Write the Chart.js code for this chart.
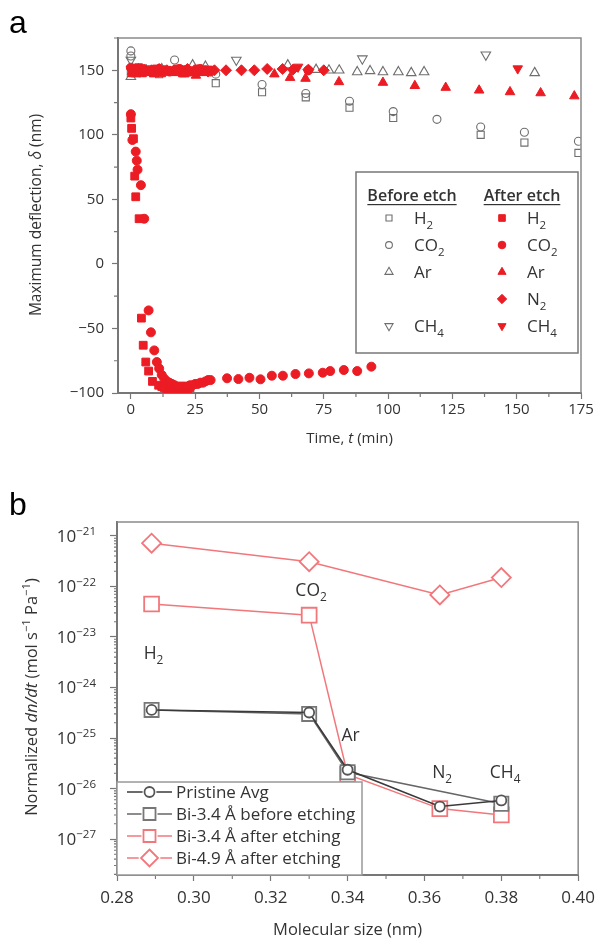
<!DOCTYPE html>
<html>
<head>
<meta charset="utf-8">
<script src="https://cdn.jsdelivr.net/npm/chart.js@4.4.1/dist/chart.umd.min.js"></script>
<style>
    html, body { margin: 0; padding: 0; background: #fff; }
    #caixaA { position: absolute; left: 0; top: 0; width: 602px; height: 460px; }
    #caixaB { position: absolute; left: 0; top: 460px; width: 602px; height: 479px; }
</style>
</head>
<body>
<div id="caixaA"><canvas id="graficoA"></canvas></div>
<div id="caixaB"><canvas id="graficoB"></canvas></div>
<script>
// ---------- Painel a: deflexão máxima x tempo ----------
const ticksTempo = [0, 25, 50, 75, 100, 125, 150, 175];
const ticksDeflexao = [-100, -50, 0, 50, 100, 150];

// antes do etching (marcadores abertos cinza) [tempo, deflexão]
const antesH2 = [[0, 148], [0.5, 151], [3, 150], [8, 149], [11, 147], [16, 150], [22, 149], [27, 150], [33, 140], [51, 133], [68, 129], [85, 121], [102, 113], [136, 100], [153, 94], [174, 86]];
const antesCO2 = [[0, 165], [0, 161], [17, 158], [33, 147], [51, 139], [68, 132], [85, 126], [102, 118], [119, 112], [136, 106], [153, 102], [174, 95]];
const antesAr = [[0, 145], [6, 150], [12, 151], [19, 150], [24, 154], [29, 153], [61, 154], [72, 150.5], [77, 150], [81, 150], [88, 148.7], [93, 149.5], [98, 148.7], [104, 148.7], [109, 148], [114, 148.7], [157, 148]];
const antesCH4 = [[0, 158], [41, 158], [90, 159], [138, 162]];

// depois do etching (marcadores cheios vermelhos)
const depoisH2 = [[0.5, 148], [1.5, 150], [3, 152], [4.5, 148], [6, 150], [8, 149], [10, 151], [12, 148], [14, 150], [16, 149], [18, 151], [20, 148], [22, 150], [24, 149], [26, 151], [28, 149], [30, 150],
    [0, 113], [0.3, 105], [1, 97], [1.5, 68], [1.9, 52], [3.2, 35], [4.1, -42], [4.8, -63], [5.8, -76], [6.9, -83], [8.4, -91], [10.8, -94], [12, -95], [13, -96], [14, -97], [15, -97], [16, -98], [17, -97], [18, -98], [19, -97], [20, -97], [21, -98], [22, -97], [23, -96]];
const depoisCO2 = [[0, 152], [1, 150], [2.5, 149], [5, 151], [7, 150], [9, 149], [11, 151], [13, 150], [15, 149], [17, 150], [19, 151], [21, 150], [23, 149], [25, 150], [27, 151], [29, 150], [31, 149], [69, 150],
    [0, 116], [0.6, 96], [1.9, 87], [2.3, 80], [2.6, 73], [3.9, 61], [5.2, 35], [6.9, -36], [7.8, -53], [9.1, -67], [10.1, -76], [11, -81], [12, -86], [13, -89], [14, -91], [15, -92], [16, -93], [17, -94], [18, -95], [19, -95], [20, -95], [21, -95], [22, -95], [23, -94], [24, -94], [25, -93], [26, -93], [27, -92], [28, -92], [29, -91], [30, -90], [31, -90],
    [37.4, -88.6], [41.8, -89.2], [46.1, -88.2], [50.4, -89.4], [54.8, -86.6], [59.1, -86.6], [64, -85.3], [69.2, -84.8], [74.6, -84.3], [77.5, -83], [82.8, -82.2], [88, -83], [93.5, -79.6]];
const depoisAr = [[0.5, 149], [2, 147], [4, 150], [6, 148], [9, 147], [13, 149], [17, 148], [20.8, 147], [25.3, 146], [28, 148], [55.8, 147], [61.9, 144.3], [67.9, 143.6], [80.9, 141], [98, 140.5], [110.4, 138], [122.4, 136.6], [135.4, 134.5], [147.4, 133.2], [159.3, 132.4], [172.4, 130]];
const depoisN2 = [[1, 150], [3, 151], [5, 149], [8, 150], [11, 151], [14, 150], [18, 150], [22, 151], [26, 150], [30, 149], [32.5, 150], [37, 150], [43, 150], [48, 150], [53, 151], [59, 151], [63, 150.5], [69, 150.5], [75, 150]];
const depoisCH4 = [[0, 151], [2, 152], [5, 150], [10, 151], [15, 150], [20, 151], [25, 150], [30, 151], [65, 152.6], [150.4, 151.3]];

// ---------- Painel b: fluxo normalizado x tamanho molecular ----------
const gases = ['H2', 'CO2', 'Ar', 'N2', 'CH4'];
const tamanhoMolecular = [0.289, 0.33, 0.34, 0.364, 0.38];
const pristineAvg = [3.6e-25, 3.2e-25, 2.35e-26, 4.4e-27, 5.8e-27];
const bi34Antes = [3.6e-25, 3.0e-25, 2.1e-26, null, 5.0e-27];
const bi34Depois = [4.5e-23, 2.7e-23, 1.9e-26, 4.0e-27, 3.0e-27];
const bi49Depois = [7.2e-22, 3.1e-22, null, 6.8e-23, 1.5e-22];
const ticksTamanho = [0.28, 0.30, 0.32, 0.34, 0.36, 0.38, 0.40];
const expoentesFluxo = [-21, -22, -23, -24, -25, -26, -27];

const vermelho = '#ec1c24';
const cinza = '#6e6e6e';
const rosa = '#f2777b';
const fonte = 'Open Sans';
const corTexto = '#333';

// desenha um marcador com a mesma geometria do Chart.js
function desenharMarcador(ctx, estilo, x, y, r, rot) {
    ctx.beginPath();
    if (estilo === 'circle') {
        ctx.arc(x, y, r, 0, Math.PI * 2);
    } else if (estilo === 'rect') {
        const s = r * Math.SQRT1_2;
        ctx.rect(x - s, y - s, 2 * s, 2 * s);
    } else if (estilo === 'rectRot') {
        ctx.moveTo(x, y - r); ctx.lineTo(x + r, y); ctx.lineTo(x, y + r); ctx.lineTo(x - r, y);
        ctx.closePath();
    } else {
        let a = (rot || 0) * Math.PI / 180;
        for (let i = 0; i < 3; i++) {
            const px = x + Math.sin(a) * r, py = y - Math.cos(a) * r;
            if (i) ctx.lineTo(px, py); else ctx.moveTo(px, py);
            a += 2 * Math.PI / 3;
        }
        ctx.closePath();
    }
    ctx.fill();
    ctx.stroke();
}

// texto com partes: n normal, i itálico, b subscrito, p sobrescrito
function textoRico(ctx, partes, x, y, tam, alinhar) {
    const fonteDe = p => {
        const pequeno = p[1] === 'b' || p[1] === 'p';
        return (p[1] === 'i' ? 'italic ' : '') + (pequeno ? tam * 0.68 : tam) + 'px "' + fonte + '"';
    };
    let total = 0;
    partes.forEach(p => { ctx.font = fonteDe(p); total += ctx.measureText(p[0]).width; });
    let cx = alinhar === 'center' ? x - total / 2 : alinhar === 'right' ? x - total : x;
    ctx.textAlign = 'left';
    ctx.textBaseline = 'alphabetic';
    partes.forEach(p => {
        ctx.font = fonteDe(p);
        const dy = p[1] === 'b' ? tam * 0.3 : p[1] === 'p' ? -tam * 0.4 : 0;
        ctx.fillText(p[0], cx, y + dy);
        cx += ctx.measureText(p[0]).width;
    });
    return total;
}

// 'CO2' -> CO com 2 subscrito
function quimico(nome) {
    return nome.split(/(\d)/).filter(s => s).map(s => [s, /\d/.test(s) ? 'b' : 'n']);
}

function conjunto(rotulo, dados, estilo, raio, cheio, cor, rot) {
    return {
        label: rotulo,
        data: dados.map(p => ({ x: p[0], y: p[1] })),
        pointStyle: estilo,
        pointRadius: raio,
        pointRotation: rot || 0,
        pointBorderWidth: cheio ? 1 : 1.1,
        borderColor: cor,
        backgroundColor: cheio ? cor : 'rgba(255,255,255,0)',
        showLine: false
    };
}

// ---------- plugin do painel a: moldura, ticks menores, títulos e legenda ----------
// índices dos conjuntos (o índice 0 fica por cima no Chart.js)
const legendaA = [
    { linha: 0, antes: 8, depois: 4 },
    { linha: 1, antes: 7, depois: 3 },
    { linha: 2, antes: 6, depois: 2 },
    { linha: 3, antes: null, depois: 1 },
    { linha: 4, antes: 5, depois: 0 }
];
const nomesLegendaA = ['H2', 'CO2', 'Ar', 'N2', 'CH4'];

const extrasA = {
    id: 'extrasA',
    afterDraw(chart) {
        const ctx = chart.ctx;
        const area = chart.chartArea;
        const sx = chart.scales.x, sy = chart.scales.y;
        ctx.save();
        // moldura superior e direita
        ctx.strokeStyle = '#8a8a8a';
        ctx.lineWidth = 1.5;
        ctx.beginPath();
        ctx.moveTo(area.left, area.top); ctx.lineTo(area.right, area.top); ctx.lineTo(area.right, area.bottom);
        ctx.stroke();
        // ticks menores
        ctx.strokeStyle = '#777';
        ctx.lineWidth = 1.2;
        ctx.beginPath();
        for (let i = 0; i < ticksTempo.length - 1; i++) {
            const px = sx.getPixelForValue((ticksTempo[i] + ticksTempo[i + 1]) / 2);
            ctx.moveTo(px, area.bottom); ctx.lineTo(px, area.bottom + 4);
        }
        for (let i = 0; i < ticksDeflexao.length; i++) {
            const py = sy.getPixelForValue(ticksDeflexao[i] + 25);
            ctx.moveTo(area.left, py); ctx.lineTo(area.left - 4, py);
        }
        ctx.stroke();

        // rótulo do painel
        ctx.fillStyle = '#000';
        ctx.font = '32px "Liberation Sans"';
        ctx.textAlign = 'left';
        ctx.textBaseline = 'alphabetic';
        ctx.fillText('a', 9, 33);

        // títulos dos eixos
        ctx.fillStyle = corTexto;
        textoRico(ctx, [['Time, ', 'n'], ['t', 'i'], [' (min)', 'n']], (area.left + area.right) / 2, 443, 15, 'center');
        ctx.save();
        ctx.translate(41, 215);
        ctx.rotate(-Math.PI / 2);
        textoRico(ctx, [['Maximum deflection, ', 'n'], ['δ', 'i'], [' (nm)', 'n']], 0, 0, 15.5, 'center');
        ctx.restore();

        // legenda
        const bx = 356, by = 172, bw = 222, bh = 181;
        ctx.fillStyle = '#fff';
        ctx.fillRect(bx, by, bw, bh);
        ctx.strokeStyle = '#777';
        ctx.lineWidth = 1.5;
        ctx.strokeRect(bx, by, bw, bh);
        ctx.fillStyle = corTexto;
        ctx.font = '600 16px "' + fonte + '"';
        ctx.textBaseline = 'alphabetic';
        ctx.textAlign = 'center';
        [['Before etch', 412], ['After etch', 522]].forEach(([t, cx]) => {
            ctx.fillText(t, cx, 201);
            const w = ctx.measureText(t).width;
            ctx.fillRect(cx - w / 2, 204, w, 1.2);
        });
        const ds = chart.data.datasets;
        legendaA.forEach(item => {
            const yy = 218 + item.linha * 27;
            [[item.antes, 389, 414], [item.depois, 502, 527]].forEach(([k, mx, tx]) => {
                if (k === null) return;
                const d = ds[k];
                ctx.fillStyle = d.backgroundColor;
                ctx.strokeStyle = d.borderColor;
                ctx.lineWidth = d.pointBorderWidth;
                desenharMarcador(ctx, d.pointStyle, mx, yy, d.pointRadius * 0.85, d.pointRotation);
                ctx.fillStyle = corTexto;
                textoRico(ctx, quimico(nomesLegendaA[item.linha]), tx, yy + 6, 17, 'left');
            });
        });
        ctx.restore();
    }
};

new Chart(document.getElementById('graficoA'), {
    type: 'scatter',
    data: {
        datasets: [
            conjunto('CH4 depois', depoisCH4, 'triangle', 5.5, true, vermelho, 180),
            conjunto('N2 depois', depoisN2, 'rectRot', 5.5, true, vermelho),
            conjunto('Ar depois', depoisAr, 'triangle', 5.5, true, vermelho),
            conjunto('CO2 depois', depoisCO2, 'circle', 4.5, true, vermelho),
            conjunto('H2 depois', depoisH2, 'rect', 5.5, true, vermelho),
            conjunto('CH4 antes', antesCH4, 'triangle', 5.5, false, cinza, 180),
            conjunto('Ar antes', antesAr, 'triangle', 5.5, false, cinza),
            conjunto('CO2 antes', antesCO2, 'circle', 4, false, cinza),
            conjunto('H2 antes', antesH2, 'rect', 5, false, cinza)
        ]
    },
    options: {
        responsive: true,
        maintainAspectRatio: false,
        animation: false,
        layout: { padding: { top: 38, right: 21, left: 0, bottom: 0 } },
        plugins: { legend: { display: false }, tooltip: { enabled: false } },
        scales: {
            x: {
                type: 'linear', min: -5, max: 175,
                afterBuildTicks: s => { s.ticks = ticksTempo.map(v => ({ value: v })); },
                afterFit: s => { s.height = 67; },
                grid: { drawOnChartArea: false, tickLength: 6, color: '#777', tickWidth: 1.2 },
                border: { color: '#777', width: 2 },
                ticks: { color: corTexto, font: { family: fonte, size: 15 }, padding: 2, maxRotation: 0, autoSkip: false }
            },
            y: {
                type: 'linear', min: -100, max: 175,
                afterBuildTicks: s => { s.ticks = ticksDeflexao.map(v => ({ value: v })); },
                afterFit: s => { s.width = 118; },
                grid: { drawOnChartArea: false, tickLength: 6, color: '#777', tickWidth: 1.2 },
                border: { color: '#777', width: 2 },
                ticks: {
                    color: corTexto, font: { family: fonte, size: 15 }, padding: 8,
                    callback: v => String(v).replace('-', '\u2212')
                }
            }
        }
    },
    plugins: [extrasA]
});

// ---------- plugin do painel b ----------
const rotulosGases = [[0.2895, 4.8e-24], [0.3305, 8.5e-23], [0.3408, 1.15e-25], [0.3646, 2.1e-26], [0.381, 2.1e-26]];
const legendaB = [
    { texto: 'Pristine Avg', ds: 0 },
    { texto: 'Bi-3.4 Å before etching', ds: 1 },
    { texto: 'Bi-3.4 Å after etching', ds: 2 },
    { texto: 'Bi-4.9 Å after etching', ds: 3 }
];

const extrasB = {
    id: 'extrasB',
    afterDraw(chart) {
        const ctx = chart.ctx;
        const area = chart.chartArea;
        const sx = chart.scales.x, sy = chart.scales.y;
        ctx.save();
        ctx.strokeStyle = '#8a8a8a';
        ctx.lineWidth = 1.5;
        ctx.beginPath();
        ctx.moveTo(area.left, area.top); ctx.lineTo(area.right, area.top); ctx.lineTo(area.right, area.bottom);
        ctx.stroke();

        // ticks menores (log e linear)
        ctx.strokeStyle = '#777';
        ctx.lineWidth = 1.1;
        ctx.beginPath();
        for (let e = -28; e <= -21; e++) {
            for (let k = 2; k <= 9; k++) {
                const v = k * Math.pow(10, e);
                if (v < sy.min || v > sy.max) continue;
                const py = sy.getPixelForValue(v);
                ctx.moveTo(area.left, py); ctx.lineTo(area.left - 3, py);
            }
        }
        for (let i = 0; i < ticksTamanho.length - 1; i++) {
            const px = sx.getPixelForValue((ticksTamanho[i] + ticksTamanho[i + 1]) / 2);
            ctx.moveTo(px, area.bottom); ctx.lineTo(px, area.bottom + 4);
        }
        ctx.stroke();

        // rótulos 10^n do eixo y
        ctx.fillStyle = corTexto;
        expoentesFluxo.forEach(e => {
            const py = sy.getPixelForValue(Math.pow(10, e));
            textoRico(ctx, [['10', 'n'], ['\u2212' + Math.abs(e), 'p']], 96, py + 6, 17, 'right');
        });

        // nomes dos gases
        gases.forEach((g, i) => {
            const px = sx.getPixelForValue(rotulosGases[i][0]);
            const py = sy.getPixelForValue(rotulosGases[i][1]);
            textoRico(ctx, quimico(g), px, py + 6, 17.5, 'center');
        });

        // rótulo do painel
        ctx.fillStyle = '#000';
        ctx.font = '32px "Liberation Sans"';
        ctx.textAlign = 'left';
        ctx.fillText('b', 9, 55);

        // títulos dos eixos
        ctx.fillStyle = corTexto;
        textoRico(ctx, [['Molecular size (nm)', 'n']], (area.left + area.right) / 2, 475, 16.5, 'center');
        ctx.save();
        ctx.translate(37, 237);
        ctx.rotate(-Math.PI / 2);
        textoRico(ctx, [['Normalized ', 'n'], ['dn/dt', 'i'], [' (mol s', 'n'], ['\u22121', 'p'], [' Pa', 'n'], ['\u22121', 'p'], [')', 'n']], 0, 0, 16.5, 'center');
        ctx.restore();

        // legenda
        const bx = area.left, by = 322, bw = 245, bh = area.bottom - 322;
        ctx.fillStyle = '#fff';
        ctx.fillRect(bx, by, bw, bh);
        ctx.strokeStyle = '#999';
        ctx.lineWidth = 1.5;
        ctx.strokeRect(bx, by, bw, bh);
        const ds = chart.data.datasets;
        legendaB.forEach((item, i) => {
            const d = ds[item.ds];
            const yy = 332 + i * 22;
            ctx.strokeStyle = d.borderColor;
            ctx.lineWidth = 1.5;
            ctx.beginPath(); ctx.moveTo(127, yy); ctx.lineTo(172, yy); ctx.stroke();
            const r = Math.min(d.pointRadius, 8.5);
            ctx.fillStyle = '#fff';
            ctx.strokeStyle = '#fff';
            ctx.lineWidth = 4;
            desenharMarcador(ctx, d.pointStyle, 149.5, yy, r, 0);
            ctx.strokeStyle = d.pointBorderColor;
            ctx.lineWidth = d.pointBorderWidth;
            desenharMarcador(ctx, d.pointStyle, 149.5, yy, r, 0);
            ctx.fillStyle = corTexto;
            textoRico(ctx, [[item.texto, 'n']], 176, yy + 6, 17, 'left');
        });
        ctx.restore();
    }
};

function serie(valores) {
    const out = [];
    valores.forEach((v, i) => { if (v !== null) out.push({ x: tamanhoMolecular[i], y: v }); });
    return out;
}

function serieB(rotulo, valores, corLinha, corPonto, estilo, raio) {
    return {
        label: rotulo,
        data: serie(valores),
        showLine: true,
        borderColor: corLinha,
        borderWidth: 1.5,
        pointStyle: estilo,
        pointRadius: raio,
        pointBorderWidth: 1.8,
        pointBorderColor: corPonto,
        pointBackgroundColor: '#fff'
    };
}

new Chart(document.getElementById('graficoB'), {
    type: 'scatter',
    data: {
        datasets: [
            serieB('Pristine Avg', pristineAvg, '#3a3a3a', '#555', 'circle', 5),
            serieB('Bi-3.4 Å before etching', bi34Antes, '#666', '#777', 'rect', 10),
            serieB('Bi-3.4 Å after etching', bi34Depois, rosa, rosa, 'rect', 10.5),
            serieB('Bi-4.9 Å after etching', bi49Depois, rosa, rosa, 'rectRot', 9.5)
        ]
    },
    options: {
        responsive: true,
        maintainAspectRatio: false,
        animation: false,
        layout: { padding: { top: 62, right: 20, left: 0, bottom: 0 } },
        plugins: { legend: { display: false }, tooltip: { enabled: false } },
        scales: {
            x: {
                type: 'linear', min: 0.28, max: 0.40,
                afterBuildTicks: s => { s.ticks = ticksTamanho.map(v => ({ value: v })); },
                afterFit: s => { s.height = 64; },
                grid: { drawOnChartArea: false, tickLength: 6, color: '#777', tickWidth: 1.2 },
                border: { color: '#777', width: 2 },
                ticks: { color: corTexto, font: { family: fonte, size: 17 }, padding: 7, maxRotation: 0, autoSkip: false, callback: v => v.toFixed(2) }
            },
            y: {
                type: 'logarithmic', min: 1.94e-28, max: 1.89e-21,
                afterBuildTicks: s => { s.ticks = expoentesFluxo.map(e => ({ value: Math.pow(10, e) })); },
                afterFit: s => { s.width = 117; },
                grid: { drawOnChartArea: false, tickLength: 7, color: '#777', tickWidth: 1.2 },
                border: { color: '#777', width: 2 },
                ticks: { display: false }
            }
        }
    },
    plugins: [extrasB]
});
</script>
</body>
</html>
